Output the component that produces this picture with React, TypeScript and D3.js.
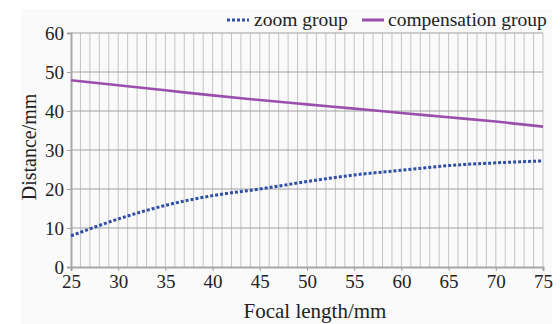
import { useEffect, useRef } from "react";
import * as d3 from "d3";

// focal length (mm) sample points
const focal = [25, 30, 35, 40, 45, 50, 55, 60, 65, 70, 75];
// distance (mm)
const zoomGroup = [8.0, 12.3, 15.8, 18.3, 20.0, 21.9, 23.6, 24.8, 26.0, 26.7, 27.2];
const compensationGroup = [47.9, 46.6, 45.3, 44.0, 42.8, 41.7, 40.6, 39.5, 38.4, 37.3, 36.0];
const xTicks = [25, 30, 35, 40, 45, 50, 55, 60, 65, 70, 75];
const yTicks = [0, 10, 20, 30, 40, 50, 60];

const FONT = "Liberation Serif, Times New Roman, DejaVu Serif, serif";

export default function App() {
  const ref = useRef<SVGSVGElement>(null);

  useEffect(() => {
    const svg = d3.select(ref.current);
    svg.selectAll("*").remove();

    const width = 560;
    const height = 324;
    const m = { left: 71, right: 17, top: 33, bottom: 57 };

    svg.attr("width", width).attr("height", height)
      .attr("font-family", FONT);

    // light panel behind the chart
    svg.append("rect")
      .attr("x", 21).attr("y", 9)
      .attr("width", 531).attr("height", 315)
      .attr("fill", "#fafafa");

    const x = d3.scaleLinear().domain([25, 75]).range([m.left, width - m.right]);
    const y = d3.scaleLinear().domain([0, 60]).range([height - m.bottom, m.top]);

    const g = svg.append("g");

    // vertical grid, one per mm
    g.selectAll("line.vg")
      .data(d3.range(26, 76, 1))
      .join("line")
      .attr("x1", d => x(d)).attr("x2", d => x(d))
      .attr("y1", y(0)).attr("y2", y(60))
      .attr("stroke", "#c4c4c4")
      .attr("stroke-width", 1);

    // horizontal grid
    g.selectAll("line.hg")
      .data(yTicks.filter(d => d > 0))
      .join("line")
      .attr("x1", x(25)).attr("x2", x(75))
      .attr("y1", d => y(d)).attr("y2", d => y(d))
      .attr("stroke", "#a0a0a0")
      .attr("stroke-width", 1);

    // axes
    const xAxis = svg.append("g")
      .attr("transform", `translate(0,${y(0)})`)
      .call(d3.axisBottom(x).tickValues(xTicks).tickSize(4).tickPadding(4).tickFormat(d3.format("d")));
    const yAxis = svg.append("g")
      .attr("transform", `translate(${x(25)},0)`)
      .call(d3.axisLeft(y).tickValues(yTicks).tickSize(4).tickPadding(3).tickFormat(d3.format("d")));

    [xAxis, yAxis].forEach(a => {
      a.attr("font-family", FONT).attr("font-size", 19);
      a.select(".domain").attr("stroke", "#a8a8a8").attr("stroke-width", 2);
      a.selectAll(".tick line").attr("stroke", "#a0a0a0");
      a.selectAll(".tick text").attr("fill", "#222");
    });

    const line = d3.line<number>()
      .x((_, i) => x(focal[i]))
      .y(d => y(d))
      .curve(d3.curveMonotoneX);

    svg.append("path")
      .datum(compensationGroup)
      .attr("d", line)
      .attr("fill", "none")
      .attr("stroke", "#9a4fac")
      .attr("stroke-width", 2.6);

    svg.append("path")
      .datum(zoomGroup)
      .attr("d", line)
      .attr("fill", "none")
      .attr("stroke", "#2f4ea6")
      .attr("stroke-width", 3)
      .attr("stroke-dasharray", "3,2");

    // axis titles
    svg.append("text")
      .attr("x", 315).attr("y", 318)
      .attr("text-anchor", "middle")
      .attr("fill", "#222")
      .attr("font-size", 21)
      .text("Focal length/mm");

    svg.append("text")
      .attr("transform", `translate(36,147) rotate(-90)`)
      .attr("text-anchor", "middle")
      .attr("fill", "#222")
      .attr("font-size", 20)
      .text("Distance/mm");

    // legend
    const legend = [
      { label: "zoom group", color: "#2f4ea6", dash: "3,2", x0: 227, tx: 254 },
      { label: "compensation group", color: "#9a4fac", dash: null, x0: 362, tx: 388 },
    ];
    const lg = svg.append("g");
    legend.forEach(l => {
      lg.append("line")
        .attr("x1", l.x0).attr("x2", l.x0 + 22)
        .attr("y1", 20).attr("y2", 20)
        .attr("stroke", l.color)
        .attr("stroke-width", 3)
        .attr("stroke-dasharray", l.dash);
      lg.append("text")
        .attr("x", l.tx).attr("y", 26)
        .attr("fill", "#222")
        .attr("font-size", 19.5)
        .text(l.label);
    });
  }, []);

  return <svg ref={ref} style={{ display: "block", position: "absolute", left: 0, top: 0 }}></svg>;
}
